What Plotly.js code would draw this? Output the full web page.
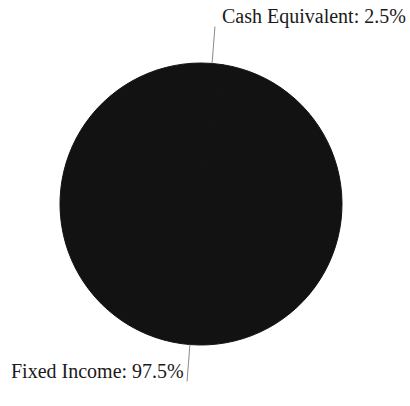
<!DOCTYPE html>
<html>
<head>
<meta charset="utf-8">
<script src="https://cdn.plot.ly/plotly-3.0.1.min.js"></script>
<style>html,body{margin:0;padding:0;background:#fff;}#chart{width:410px;height:406px;}</style>
</head>
<body>
<div id="chart"></div>
<script>
var categories = ['Cash Equivalent', 'Fixed Income'];
var shares = [2.5, 97.5];

var W = 410, H = 406;
var cx = 201, cy = 204, R = 141, lead = 37;
var domX = [(cx - R) / W, (cx + R) / W];
var domY = [(H - cy - R) / H, (H - cy + R) / H];

var total = shares.reduce(function (a, b) { return a + b; }, 0);
var shapes = [], annotations = [];
var acc = 0;
for (var i = 0; i < shares.length; i++) {
  var mid = (acc + shares[i] / 2) / total * 2 * Math.PI;
  acc += shares[i];
  var sx = Math.sin(mid), sy = -Math.cos(mid);
  var x0 = cx + R * sx, y0 = cy + R * sy;
  var x1 = cx + (R + lead) * sx, y1 = cy + (R + lead) * sy;
  shapes.push({type: 'line', xref: 'paper', yref: 'paper',
    x0: x0 / W, y0: 1 - y0 / H, x1: x1 / W, y1: 1 - y1 / H,
    line: {color: '#8a8a8a', width: 1}});
  var top = sy < 0;
  annotations.push({
    xref: 'paper', yref: 'paper', showarrow: false,
    x: (x1 + (sx > 0 ? 6 : -2)) / W,
    y: 1 - (y1 + (top ? -10 : 12.5)) / H,
    xanchor: sx > 0 ? 'left' : 'right',
    yanchor: 'middle',
    borderpad: 0,
    text: categories[i] + ': ' + shares[i] + '%',
    font: {family: 'Liberation Serif, Times New Roman, serif', size: 20, color: '#1a1a1a'}
  });
}

var data = [{
  type: 'pie',
  labels: categories,
  values: shares,
  sort: false,
  direction: 'clockwise',
  rotation: 0,
  textinfo: 'none',
  hoverinfo: 'label+percent',
  marker: {colors: ['#121212', '#121212'], line: {color: '#121212', width: 1}},
  domain: {x: domX, y: domY},
  showlegend: false
}];

var layout = {
  width: W, height: H,
  margin: {l: 0, r: 0, t: 0, b: 0},
  paper_bgcolor: '#ffffff',
  showlegend: false,
  shapes: shapes,
  annotations: annotations
};

Plotly.newPlot('chart', data, layout, {displayModeBar: false, staticPlot: true});
</script>
</body>
</html>
